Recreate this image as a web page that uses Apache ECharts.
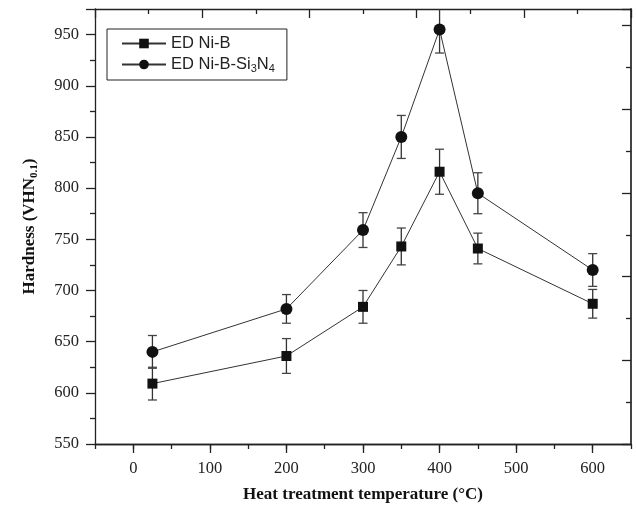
<!DOCTYPE html>
<html>
<head>
<meta charset="utf-8">
<script src="https://cdn.jsdelivr.net/npm/echarts@6/dist/echarts.min.js"></script>
<style>
html,body{margin:0;padding:0;background:#fff;}
#c{width:636px;height:509px;}
</style>
</head>
<body>
<div id="c"></div>
<script>
var temps = [25, 200, 300, 350, 400, 450, 600];
var niB = [609, 636, 684, 743, 816, 741, 687];
var niBErr = [16, 17, 16, 18, 22, 15, 14];
var niBSi = [640, 682, 759, 850, 955, 795, 720];
var niBSiErr = [16, 14, 17, 21, 23, 20, 16];
var xTickLabels = [0, 100, 200, 300, 400, 500, 600];
var seriesNames = ['ED Ni-B', 'ED Ni-B-Si3N4'];

var chart = echarts.init(document.getElementById('c'), null, {renderer: 'canvas'});

function pts(vals) { return temps.map(function (t, i) { return [t, vals[i]]; }); }
function errs(vals, e) { return temps.map(function (t, i) { return [t, vals[i] - e[i], vals[i] + e[i]]; }); }

function renderErr(params, api) {
  var cs = params.coordSys;
  var lo = api.coord([api.value(0), api.value(1)]);
  var hi = api.coord([api.value(0), api.value(2)]);
  var x = lo[0];
  var top = Math.max(hi[1], cs.y);
  var bottom = Math.min(lo[1], cs.y + cs.height);
  var w = 4.5;
  var children = [{type: 'line', shape: {x1: x, y1: top, x2: x, y2: bottom}, style: {stroke: '#333', lineWidth: 1.3}}];
  if (hi[1] >= cs.y) children.push({type: 'line', shape: {x1: x - w, y1: hi[1], x2: x + w, y2: hi[1]}, style: {stroke: '#444', lineWidth: 1.3}});
  if (lo[1] <= cs.y + cs.height) children.push({type: 'line', shape: {x1: x - w, y1: lo[1], x2: x + w, y2: lo[1]}, style: {stroke: '#444', lineWidth: 1.3}});
  return {type: 'group', children: children};
}

var axisLine = {show: true, onZero: false, lineStyle: {color: '#222', width: 1.3}};
var tickStyle = {color: '#222', width: 1.3};
var serif = 'Liberation Serif';

var option = {
  animation: false,
  grid: {left: 95, right: 5, top: 9, bottom: 65},
  legend: {
    left: 107, top: 29,
    orient: 'vertical',
    data: seriesNames,
    borderColor: '#222', borderWidth: 1, borderRadius: 0,
    padding: [6, 12, 6, 14],
    itemWidth: 44, itemHeight: 12, itemGap: 4,
    formatter: function (name) {
      if (name === 'ED Ni-B-Si3N4') return '{n|ED Ni-B-Si}{s|3}{n|N}{s|4}';
      return '{n|' + name + '}';
    },
    textStyle: {
      rich: {
        n: {fontFamily: 'Liberation Sans', fontSize: 16.5, color: '#222', lineHeight: 19},
        s: {fontFamily: 'Liberation Sans', fontSize: 11, color: '#222', lineHeight: 10, verticalAlign: 'bottom'}
      }
    }
  },
  xAxis: [{
    type: 'value', min: -50, max: 650, interval: 50,
    name: 'Heat treatment temperature (°C)', nameLocation: 'middle', nameGap: 42,
    nameTextStyle: {fontFamily: serif, fontWeight: 'bold', fontSize: 17, color: '#111'},
    axisLine: axisLine,
    axisTick: {show: true, length: 9, customValues: xTickLabels, lineStyle: tickStyle},
    axisLabel: {fontFamily: serif, fontSize: 16.5, color: '#222', margin: 16, customValues: xTickLabels},
    splitLine: {show: false}
  }, {
    type: 'value', position: 'bottom', min: -50, max: 650, interval: 50,
    axisLine: axisLine,
    axisTick: {show: true, length: 5, lineStyle: tickStyle},
    axisLabel: {show: false}, splitLine: {show: false}
  }, {
    type: 'value', position: 'top', min: 0, max: 10, interval: 2,
    axisLine: axisLine,
    axisTick: {show: true, inside: true, length: 9, lineStyle: tickStyle},
    minorTick: {show: true, splitNumber: 2, length: 5, lineStyle: tickStyle},
    axisLabel: {show: false}, splitLine: {show: false}
  }],
  yAxis: [{
    type: 'value', min: 550, max: 975, interval: 50,
    name: '{b|Hardness (VHN}{bs|0.1}{b|)}', nameLocation: 'middle', nameGap: 55, nameRotate: 90,
    nameTextStyle: {
      rich: {
        b: {fontFamily: serif, fontWeight: 'bold', fontSize: 17, color: '#111', lineHeight: 20},
        bs: {fontFamily: serif, fontWeight: 'bold', fontSize: 11, color: '#111', lineHeight: 11, verticalAlign: 'bottom'}
      }
    },
    axisLine: axisLine,
    axisTick: {show: true, length: 9, lineStyle: tickStyle},
    minorTick: {show: true, splitNumber: 2, length: 5, lineStyle: tickStyle},
    axisLabel: {fontFamily: serif, fontSize: 16.5, color: '#222', margin: 16,
      formatter: function (v) { return v > 950 ? '' : String(v); }},
    splitLine: {show: false}
  }, {
    type: 'value', position: 'right', min: 0, max: 10.4, interval: 2,
    axisLine: {show: true, onZero: false, lineStyle: {color: '#444', width: 2}},
    axisTick: {show: true, inside: true, length: 9, lineStyle: tickStyle},
    minorTick: {show: true, splitNumber: 2, length: 5, lineStyle: tickStyle},
    axisLabel: {show: false}, splitLine: {show: false}
  }],
  series: [{
    type: 'custom', name: 'errB', renderItem: renderErr, data: errs(niB, niBErr), z: 1, silent: true
  }, {
    type: 'custom', name: 'errS', renderItem: renderErr, data: errs(niBSi, niBSiErr), z: 1, silent: true
  }, {
    type: 'line', name: seriesNames[0], data: pts(niB),
    symbol: 'rect', symbolSize: 10,
    lineStyle: {color: '#333', width: 1}, itemStyle: {color: '#111'}, z: 3
  }, {
    type: 'line', name: seriesNames[1], data: pts(niBSi),
    symbol: 'circle', symbolSize: 12,
    lineStyle: {color: '#333', width: 1}, itemStyle: {color: '#111'}, z: 3
  }]
};
chart.setOption(option);
</script>
</body>
</html>
